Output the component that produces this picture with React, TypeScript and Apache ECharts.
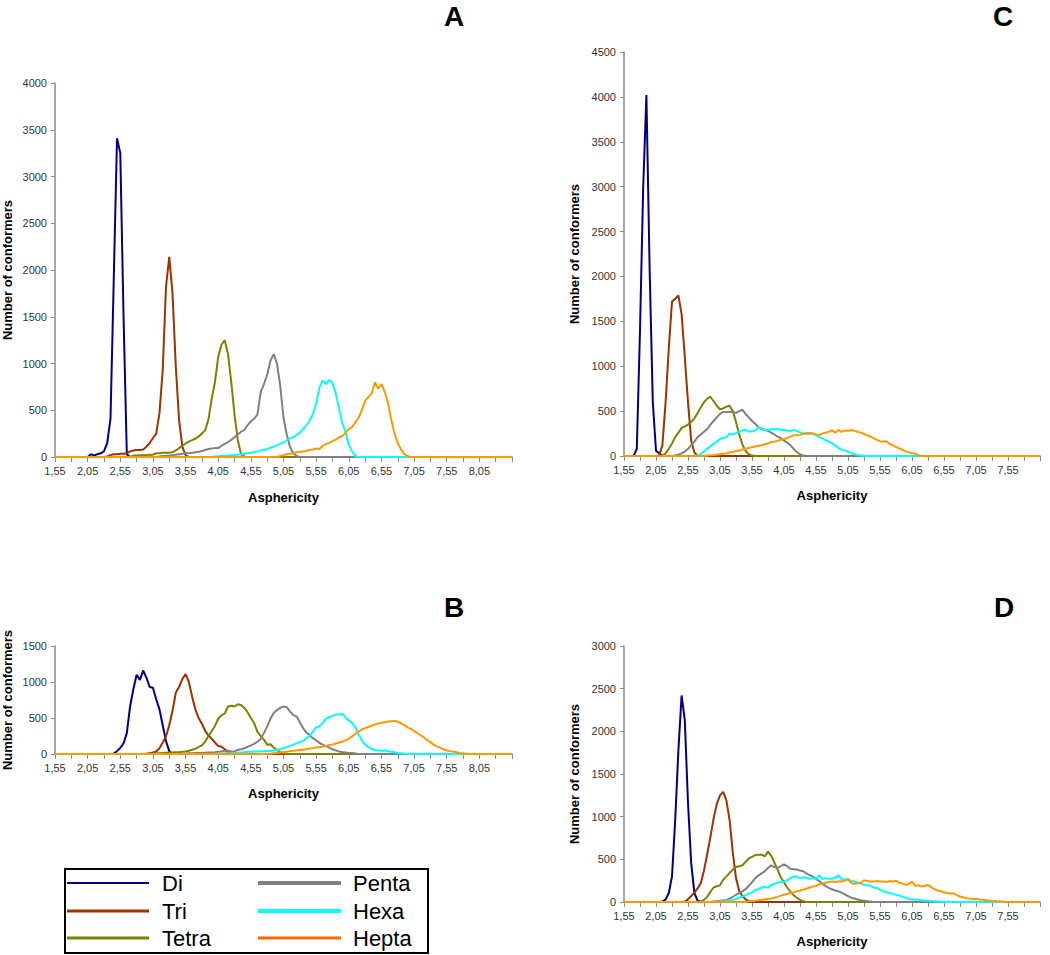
import React, { useEffect, useRef } from "react";
import * as echarts from "echarts";

const FONT = "'Liberation Sans', Arial, Helvetica, sans-serif";

// x categories: asphericity bins
const X_START = 1.55;
const X_STEP = 0.05;
const N_AB = 141; // 1.55 .. 8.55
const N_CD = 131; // 1.55 .. 8.05

const NAMES = ["Di", "Tri", "Tetra", "Penta", "Hexa", "Hepta"];
const LINE_COLORS = ["#000080", "#993300", "#808000", "#808080", "#00FFFF", "#FF9900"];
const LEGEND_COLORS = ["#000080", "#993300", "#808000", "#808080", "#00FFFF", "#FF6600"];
const LEGEND_WIDTHS = [2, 3, 3, 4, 4, 3];

// ---------- Panel A (values from first bin listed, step 0.05) ----------
const A_STARTS = [2.05, 2.35, 2.75, 3.15, 4.0, 5.0];
const A_DI = [0, 30, 15, 30, 40, 60, 150, 410, 1900, 3410, 3250, 1500, 30, 0];
const A_TRI = [5, 20, 30, 30, 35, 35, 40, 60, 70, 75, 75, 80, 110, 150, 200, 250, 470, 930, 1820, 2140, 1750, 970, 400, 110, 20, 0];
const A_TETRA = [15, 15, 20, 20, 20, 25, 25, 40, 40, 45, 45, 45, 50, 70, 95, 120, 145, 165, 180, 195, 220, 250, 285, 400, 620, 800, 1070, 1200, 1250, 1100, 800, 450, 180, 30, 5, 0];
const A_PENTA = [5, 10, 12, 15, 20, 25, 30, 35, 40, 40, 45, 50, 55, 65, 75, 85, 90, 95, 95, 120, 140, 160, 185, 210, 240, 270, 290, 340, 380, 410, 450, 690, 780, 880, 1030, 1100, 1000, 760, 420, 240, 110, 40, 10, 0];
const A_HEXA = [5, 8, 10, 12, 15, 18, 20, 25, 30, 35, 40, 45, 50, 60, 70, 75, 85, 100, 110, 125, 140, 155, 180, 200, 215, 235, 260, 300, 340, 390, 460, 570, 740, 820, 780, 825, 790, 680, 520, 360, 270, 130, 60, 10, 0];
const A_HEPTA = [10, 20, 30, 35, 40, 50, 55, 60, 65, 75, 80, 90, 85, 120, 140, 150, 170, 185, 210, 225, 260, 300, 320, 370, 420, 500, 600, 640, 680, 800, 730, 780, 700, 580, 400, 250, 150, 80, 30, 10, 0];

// ---------- Panel B ----------
const B_STARTS = [2.45, 2.95, 3.0, 3.55, 4.0, 4.85];
const B_DI = [5, 40, 85, 150, 290, 660, 900, 1100, 1030, 1160, 1060, 930, 920, 760, 620, 400, 180, 40, 0];
const B_TRI = [5, 10, 20, 35, 80, 160, 245, 400, 600, 850, 930, 1040, 1110, 1000, 800, 620, 500, 420, 320, 260, 210, 160, 110, 100, 65, 30, 10, 0];
const B_TETRA = [5, 8, 10, 12, 15, 18, 20, 22, 25, 25, 30, 35, 45, 60, 75, 95, 120, 170, 250, 320, 390, 490, 540, 560, 660, 670, 660, 690, 680, 640, 580, 500, 430, 310, 250, 200, 130, 135, 90, 55, 25, 10, 0];
const B_PENTA = [5, 10, 12, 14, 15, 16, 18, 20, 22, 25, 30, 35, 45, 45, 35, 40, 55, 65, 80, 100, 120, 140, 170, 210, 290, 380, 490, 570, 610, 640, 660, 650, 590, 540, 520, 440, 360, 300, 260, 220, 190, 155, 130, 110, 90, 65, 50, 35, 28, 22, 18, 15, 8, 0];
const B_HEXA = [5, 6, 8, 9, 10, 12, 15, 18, 20, 25, 30, 32, 35, 35, 35, 38, 40, 45, 50, 55, 65, 80, 95, 110, 130, 150, 165, 180, 220, 250, 310, 370, 385, 430, 490, 510, 530, 545, 550, 555, 510, 460, 430, 370, 270, 190, 130, 95, 70, 55, 50, 45, 50, 40, 30, 25, 15, 10, 5, 0];
const B_HEPTA = [5, 10, 15, 20, 25, 30, 40, 45, 50, 55, 60, 65, 75, 80, 90, 95, 100, 110, 125, 130, 145, 160, 170, 190, 215, 245, 280, 310, 340, 360, 375, 395, 410, 425, 435, 440, 450, 455, 460, 450, 425, 400, 370, 350, 320, 290, 260, 230, 195, 165, 130, 105, 85, 65, 50, 40, 30, 25, 15, 10, 5, 0];

// ---------- Panel C ----------
const C_STARTS = [1.7, 2.1, 2.15, 2.35, 2.7, 2.85];
const C_DI = [0, 80, 1400, 3000, 4020, 2100, 600, 60, 30, 0];
const C_TRI = [5, 120, 600, 1200, 1720, 1750, 1790, 1580, 1100, 600, 170, 40, 0];
const C_TETRA = [5, 30, 80, 140, 210, 260, 310, 330, 350, 380, 420, 480, 540, 600, 640, 660, 610, 560, 520, 530, 550, 560, 500, 380, 240, 130, 55, 20, 5, 0];
const C_PENTA = [5, 15, 30, 50, 80, 120, 160, 210, 240, 270, 300, 350, 390, 430, 470, 490, 490, 490, 490, 480, 500, 515, 470, 430, 390, 360, 320, 300, 290, 280, 260, 240, 215, 200, 170, 150, 120, 80, 45, 20, 5, 0];
const C_HEXA = [5, 25, 50, 80, 110, 135, 160, 190, 200, 210, 250, 240, 255, 270, 285, 290, 270, 280, 280, 320, 310, 290, 290, 300, 295, 300, 290, 290, 280, 280, 290, 280, 265, 250, 255, 245, 250, 230, 210, 195, 175, 160, 140, 115, 90, 70, 60, 50, 30, 20, 10, 5, 0];
const C_HEPTA = [5, 8, 10, 15, 20, 25, 30, 38, 45, 55, 60, 70, 80, 90, 100, 105, 115, 120, 130, 140, 155, 160, 170, 180, 190, 200, 215, 230, 230, 235, 245, 250, 255, 250, 240, 235, 250, 260, 270, 285, 260, 290, 270, 285, 280, 290, 280, 270, 260, 245, 230, 215, 200, 180, 165, 160, 165, 135, 120, 100, 85, 70, 50, 40, 30, 25, 10, 0];

// ---------- Panel D ----------
const D_STARTS = [2.15, 2.5, 2.75, 2.95, 3.05, 3.5];
const D_DI = [5, 30, 105, 300, 960, 1780, 2420, 2130, 1160, 455, 105, 15, 0];
const D_TRI = [5, 30, 70, 110, 160, 220, 370, 560, 760, 980, 1150, 1250, 1290, 1190, 960, 580, 280, 130, 70, 30, 10, 0];
const D_TETRA = [5, 25, 60, 120, 170, 185, 195, 260, 300, 340, 380, 410, 420, 430, 470, 510, 530, 550, 555, 555, 535, 590, 540, 460, 380, 290, 230, 170, 120, 80, 50, 25, 10, 0];
const D_PENTA = [5, 10, 15, 20, 25, 40, 60, 85, 105, 125, 150, 190, 230, 280, 310, 335, 360, 400, 430, 410, 400, 420, 440, 420, 390, 385, 380, 370, 360, 335, 315, 300, 270, 245, 215, 185, 165, 150, 135, 125, 110, 90, 70, 50, 40, 30, 20, 15, 10, 5, 0];
const D_HEXA = [5, 10, 15, 20, 25, 35, 50, 65, 80, 100, 110, 140, 150, 170, 180, 165, 200, 210, 230, 230, 240, 255, 280, 300, 295, 280, 290, 285, 270, 280, 270, 310, 270, 280, 270, 275, 280, 310, 270, 265, 260, 250, 240, 230, 215, 200, 195, 190, 170, 165, 145, 125, 115, 105, 95, 85, 75, 65, 50, 35, 30, 25, 25, 20, 15, 15, 10, 10, 5, 5, 0];
const D_HEPTA = [5, 10, 15, 20, 25, 30, 35, 40, 50, 60, 75, 85, 95, 105, 115, 125, 135, 145, 155, 170, 180, 190, 205, 215, 225, 235, 240, 235, 240, 240, 250, 270, 220, 215, 220, 225, 255, 245, 240, 240, 245, 240, 240, 235, 245, 240, 250, 225, 215, 200, 210, 240, 190, 195, 180, 190, 200, 175, 150, 135, 125, 115, 105, 100, 100, 80, 65, 55, 45, 40, 35, 35, 30, 25, 20, 15, 15, 10, 10, 5, 0];

const Y_MAX = { A: 4000, B: 1500, C: 4500, D: 3000 };

function categories(n: number): string[] {
  return Array.from({ length: n }, (_, i) => (X_START + i * X_STEP).toFixed(2).replace(".", ","));
}

function place(start: number, vals: number[], n: number): number[] {
  const arr = new Array(n).fill(0);
  const off = Math.round((start - X_START) / X_STEP);
  vals.forEach((v, i) => {
    if (off + i >= 0 && off + i < n) arr[off + i] = v;
  });
  return arr;
}

const PANELS = [
  { key: "A", n: N_AB, max: Y_MAX.A, starts: A_STARTS, data: [A_DI, A_TRI, A_TETRA, A_PENTA, A_HEXA, A_HEPTA],
    grid: { left: 55, top: 83, width: 457, height: 374 }, yGap: 41, xGap: 34, letter: [454, 16] },
  { key: "B", n: N_AB, max: Y_MAX.B, starts: B_STARTS, data: [B_DI, B_TRI, B_TETRA, B_PENTA, B_HEXA, B_HEPTA],
    grid: { left: 55, top: 646, width: 457, height: 108 }, yGap: 41, xGap: 33, letter: [454, 607] },
  { key: "C", n: N_CD, max: Y_MAX.C, starts: C_STARTS, data: [C_DI, C_TRI, C_TETRA, C_PENTA, C_HEXA, C_HEPTA],
    grid: { left: 624, top: 52, width: 416, height: 404 }, yGap: 43, xGap: 33, letter: [1003, 16] },
  { key: "D", n: N_CD, max: Y_MAX.D, starts: D_STARTS, data: [D_DI, D_TRI, D_TETRA, D_PENTA, D_HEXA, D_HEPTA],
    grid: { left: 624, top: 646, width: 416, height: 256 }, yGap: 43, xGap: 33, letter: [1004, 607] },
];

function buildOption() {
  const grids: any[] = [];
  const xAxes: any[] = [];
  const yAxes: any[] = [];
  const series: any[] = [];
  const graphics: any[] = [];
  const axisColor = "#8a8a8a";

  PANELS.forEach((p, pi) => {
    grids.push({ ...p.grid, containLabel: false });
    const cats = categories(p.n);
    xAxes.push({
      type: "category",
      gridIndex: pi,
      data: cats,
      boundaryGap: false,
      axisLine: { show: true, lineStyle: { color: axisColor, width: 1.5 } },
      axisTick: { show: true, length: 5, interval: (i: number) => i % 5 === 0, lineStyle: { color: axisColor } },
      axisLabel: {
        interval: (i: number) => i % 10 === 0 && i < p.n - 1,
        fontSize: 11,
        color: "#333",
        fontFamily: FONT,
        margin: 8,
      },
      splitLine: { show: false },
      name: "Asphericity",
      nameLocation: "middle",
      nameGap: p.xGap,
      nameTextStyle: { fontFamily: FONT, fontSize: 13, fontWeight: "bold", color: "#000" },
    });
    yAxes.push({
      type: "value",
      gridIndex: pi,
      min: 0,
      max: p.max,
      interval: 500,
      axisLine: { show: true, lineStyle: { color: axisColor, width: 1.5 } },
      axisTick: { show: true, length: 4, lineStyle: { color: axisColor } },
      axisLabel: {
        fontSize: 11,
        color: "#333",
        fontFamily: FONT,
        margin: 8,
        formatter: (v: number) => String(v),
      },
      splitLine: { show: false },
      name: "Number of conformers",
      nameLocation: "middle",
      nameGap: p.yGap,
      nameTextStyle: { fontFamily: FONT, fontSize: 13, fontWeight: "bold", color: "#000" },
    });
    p.data.forEach((vals, si) => {
      series.push({
        type: "line",
        name: NAMES[si],
        xAxisIndex: pi,
        yAxisIndex: pi,
        data: place(p.starts[si], vals, p.n),
        showSymbol: false,
        symbol: "none",
        lineStyle: { color: LINE_COLORS[si], width: 2 },
        itemStyle: { color: LINE_COLORS[si] },
        z: 2 + si,
      });
    });
    graphics.push({
      type: "text",
      x: p.letter[0],
      y: p.letter[1],
      style: {
        text: p.key,
        fontFamily: FONT,
        fontSize: 28,
        fontWeight: "bold",
        fill: "#000",
        align: "center",
        verticalAlign: "middle",
      },
    });
  });

  // legend box
  const lx = 65, ly = 869, lw = 363, lh = 84;
  graphics.push({
    type: "rect",
    shape: { x: lx, y: ly, width: lw, height: lh },
    style: { fill: "#fff", stroke: "#000", lineWidth: 2 },
  });
  const rows = [883, 911, 938];
  const cols = [
    { x1: 67, x2: 149, tx: 162 },
    { x1: 258, x2: 341, tx: 353 },
  ];
  NAMES.forEach((nm, i) => {
    const col = cols[Math.floor(i / 3)];
    const y = rows[i % 3];
    graphics.push({
      type: "line",
      shape: { x1: col.x1, y1: y, x2: col.x2, y2: y },
      style: { stroke: LEGEND_COLORS[i], lineWidth: LEGEND_WIDTHS[i] },
    });
    graphics.push({
      type: "text",
      x: col.tx,
      y: y,
      style: {
        text: nm,
        fontFamily: FONT,
        fontSize: 22,
        fill: "#000",
        align: "left",
        verticalAlign: "middle",
      },
    });
  });

  return {
    animation: false,
    backgroundColor: "#fff",
    grid: grids,
    xAxis: xAxes,
    yAxis: yAxes,
    series,
    graphic: { elements: graphics },
  };
}

export default function App() {
  const ref = useRef<HTMLDivElement>(null);
  useEffect(() => {
    if (!ref.current) return;
    const chart = echarts.init(ref.current, undefined, { renderer: "svg" });
    chart.setOption(buildOption() as any);
    return () => chart.dispose();
  }, []);
  return (
    <div
      ref={ref}
      style={{ position: "fixed", left: 0, top: 0, width: 1050, height: 955, background: "#fff" }}
    />
  );
}
